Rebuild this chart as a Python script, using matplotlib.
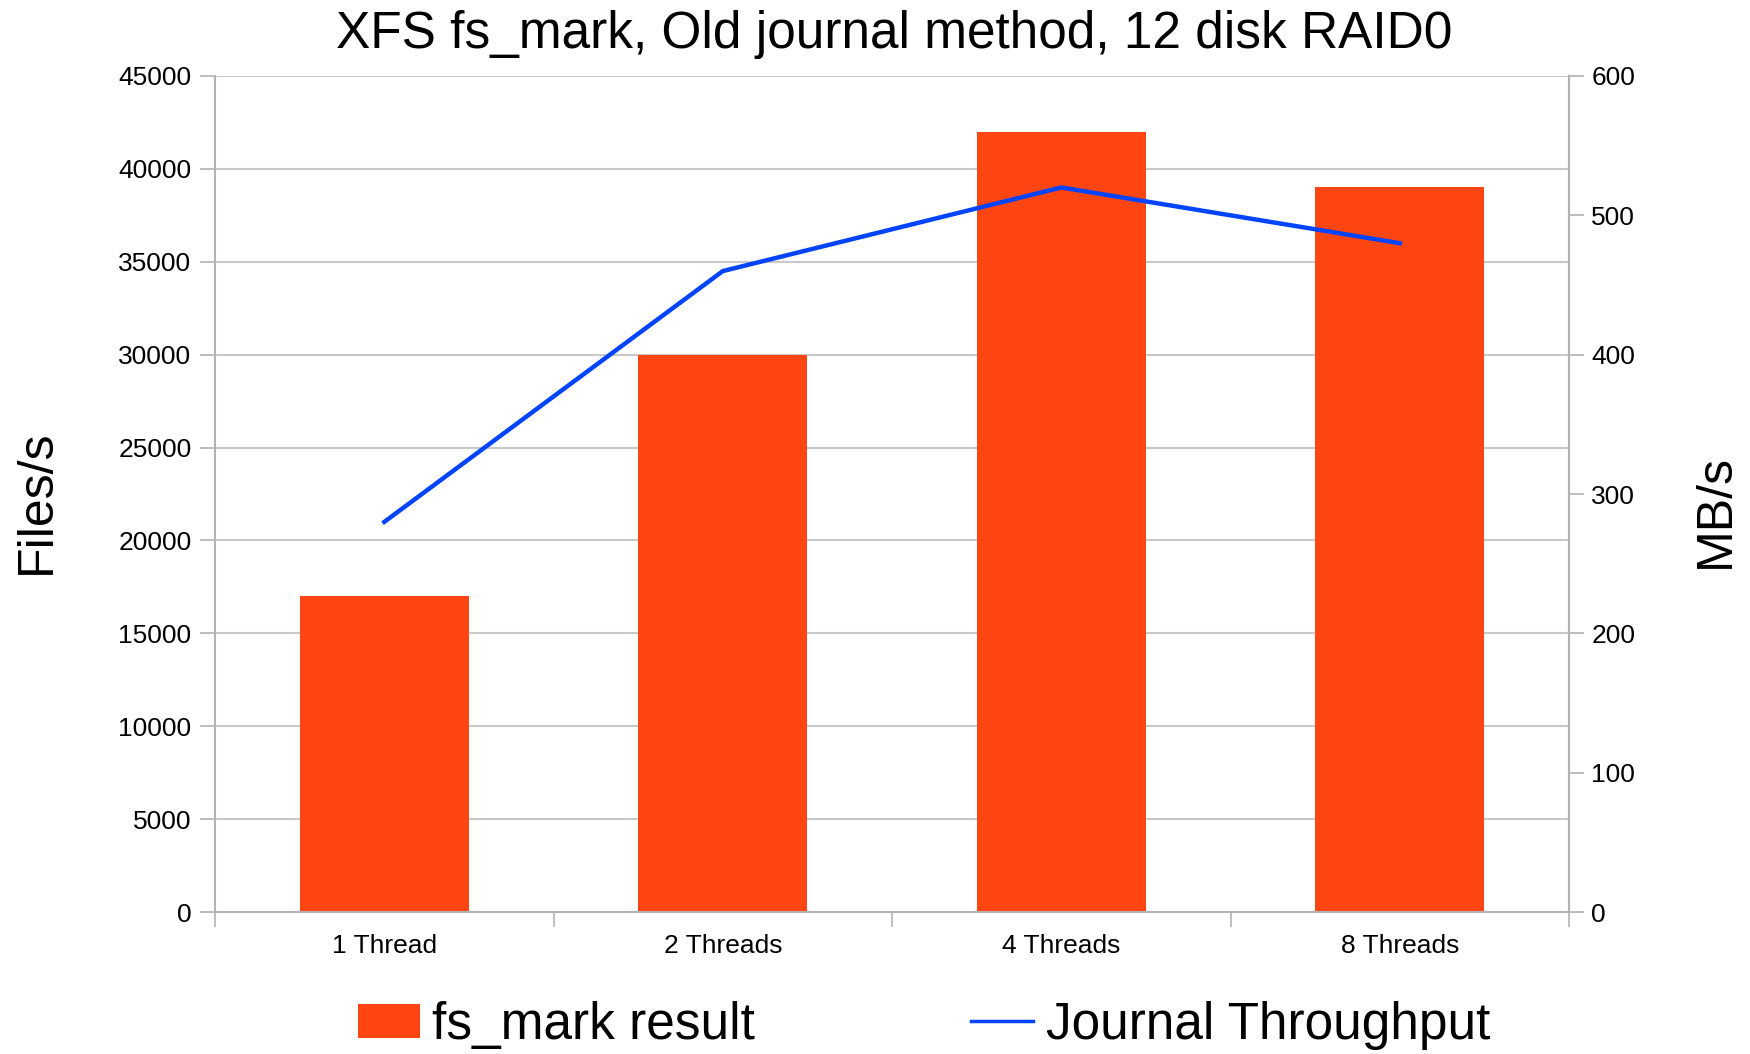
import matplotlib
matplotlib.use("Agg")
import matplotlib.pyplot as plt
from matplotlib.ticker import FixedLocator, MultipleLocator

plt.rcParams['font.family'] = ['Liberation Sans', 'DejaVu Sans']

# fs_mark results per thread count
categories = ['1 Thread', '2 Threads', '4 Threads', '8 Threads']
files_per_sec = [17000, 30000, 42000, 39000]
journal_mb_per_sec = [280, 460, 520, 480]

bar_color = '#ff4512'
line_color = '#0044ff'
grid_color = '#c8c8c8'
axis_color = '#b3b3b3'

fig = plt.figure(figsize=(17.5, 10.54), dpi=100)
ax = fig.add_axes([0.1229, 0.1347, 0.7737, 0.7932])

x = list(range(len(categories)))
bars = ax.bar(x, files_per_sec, width=0.5, color=bar_color, zorder=2,
              label='fs_mark result')
ax.set_xlim(-0.5, len(categories) - 0.5)
ax.set_ylim(0, 45000)
ax.yaxis.set_major_locator(MultipleLocator(5000))
ax.grid(axis='y', color=grid_color, linewidth=1.5, zorder=0)
ax.set_axisbelow(True)

# category labels centred, tick marks on the boundaries
ax.set_xticks(x)
ax.set_xticklabels(categories, fontsize=19)
ax.tick_params(axis='x', which='major', length=0, pad=16)
ax.xaxis.set_minor_locator(FixedLocator([i - 0.5 for i in range(len(categories) + 1)]))
ax.tick_params(axis='x', which='minor', length=11, width=1.2, color=axis_color)
ax.tick_params(axis='y', labelsize=19, length=11, width=1.2, color=axis_color, pad=6)

for side in ['left', 'right', 'bottom']:
    ax.spines[side].set_color(axis_color)
    ax.spines[side].set_linewidth(1.5)
ax.spines['top'].set_visible(False)

ax2 = ax.twinx()
line, = ax2.plot(x, journal_mb_per_sec, color=line_color, linewidth=3.2,
                 zorder=3, label='Journal Throughput')
ax2.set_ylim(0, 600)
ax2.yaxis.set_major_locator(MultipleLocator(100))
ax2.tick_params(axis='y', labelsize=19, length=11, width=1.2, color=axis_color, pad=5)
for side in ['left', 'right', 'bottom', 'top']:
    ax2.spines[side].set_visible(False)
ax2.spines['right'].set_visible(True)
ax2.spines['right'].set_color(axis_color)
ax2.spines['right'].set_linewidth(1.5)

fig.text(0.511, 0.967, 'XFS fs_mark, Old journal method, 12 disk RAID0',
         ha='center', va='center', fontsize=37)
fig.text(0.021, 0.524, 'Files/s', rotation=90, ha='center', va='center', fontsize=36)
fig.text(0.9806, 0.515, 'MB/s', rotation=90, ha='center', va='center', fontsize=36)

leg = fig.legend(handles=[bars, line], loc='center', bbox_to_anchor=(0.528, 0.027),
                 ncol=2, frameon=False, fontsize=37, handlelength=1.2, handleheight=0.65,
                 handletextpad=0.25, columnspacing=4.2)
leg.get_lines()[0].set_linewidth(2.5)

fig.savefig('out.png', dpi=100)
